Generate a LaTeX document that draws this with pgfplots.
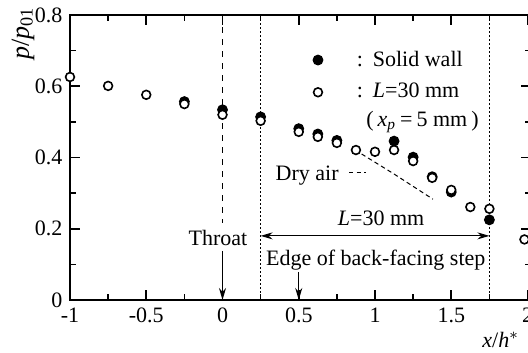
\documentclass[border=0pt]{standalone}
\usepackage{pgfplots}
\pgfplotsset{compat=1.18}
\usepackage{fontspec}
\setmainfont{Liberation Serif}
\usetikzlibrary{arrows.meta}
\begin{document}
\fontsize{11}{13}\selectfont
\begin{tikzpicture}
\path[use as bounding box] (-35pt,-26pt) rectangle (229pt,150pt);
\clip (-35pt,-26pt) rectangle (229pt,150pt);
\begin{axis}[
  at={(0pt,0pt)}, anchor=south west,
  scale only axis, width=230.275pt, height=142.5pt,
  xmin=-1, xmax=2.02, ymin=0, ymax=0.8,
  xtick={-1,-0.5,0,0.5,1,1.5,2},
  xticklabels={-1,-0.5,0,0.5,1,1.5,2},
  ytick={0,0.2,0.4,0.6,0.8},
  yticklabels={0,0.2,0.4,0.6,0.8},
  minor xtick={-0.75,-0.25,0.25,0.75,1.25,1.75},
  minor ytick={0.1,0.3,0.5,0.7},
  tick align=inside,
  major tick length=5pt, minor tick length=3pt,
  axis line style={line width=0.8pt},
  every tick/.style={black, line width=0.8pt},
  clip=false,
  xlabel={\textit{x}/\textit{h}$^{*}$},
  xlabel style={at={(axis description cs:0.935,-0.14)}, anchor=center},
  ylabel={\textit{p}/\textit{p}\textsubscript{01}},
  ylabel style={at={(axis description cs:-0.102,0.935)}, anchor=center, font=\fontsize{13}{15}\selectfont},
  legend style={at={(axis cs:0.592,0.712)}, anchor=north west, draw=none, fill=none,
    inner sep=0pt, row sep=3pt, font=\fontsize{11}{13}\selectfont},
  legend cell align=left,
]
% Solid wall
\addplot[only marks, mark=*, mark size=2.4pt, mark options={fill=black, draw=black, line width=0.6pt}]
coordinates {
(-0.25,0.557) (0,0.534) (0.25,0.514) (0.5,0.481) (0.625,0.466) (0.75,0.448)
(1.125,0.446) (1.25,0.401) (1.375,0.346) (1.5,0.303) (1.75,0.225)
};
\addlegendentry{\hspace{15pt}:\hspace{5pt}Solid wall}
% L = 30 mm
\addplot[only marks, mark=*, mark size=2.2pt, mark options={fill=white, draw=black, line width=0.8pt}]
coordinates {
(-1,0.626) (-0.75,0.601) (-0.5,0.576) (-0.25,0.550) (0,0.520) (0.25,0.503)
(0.5,0.472) (0.625,0.458) (0.75,0.441) (0.875,0.421) (1.0,0.416) (1.125,0.421)
(1.25,0.390) (1.375,0.343) (1.5,0.309) (1.625,0.261) (1.75,0.256) (1.98,0.170)
};
\addlegendentry{\hspace{15pt}:\hspace{5pt}\textit{L}=30 mm}
\node[anchor=west, inner sep=0pt] at (axis cs:0.941,0.50) {(\hspace{2pt}\textit{x}\textsubscript{\textit{p}}\hspace{2pt}=\hspace{2pt}5 mm\hspace{2pt})};
% Dry air line
\addplot[black, line width=0.5pt, dash pattern=on 2.2pt off 1.6pt, forget plot]
coordinates {(0.87,0.421) (1.12,0.355) (1.38,0.283)};
\addplot[black, line width=0.5pt, dash pattern=on 2.2pt off 1.6pt, forget plot]
coordinates {(0.83,0.357) (0.94,0.357)};
\node at (axis cs:0.555,0.350) {Dry air};
% Vertical lines
\addplot[black, line width=0.5pt, dash pattern=on 3pt off 3pt, forget plot]
coordinates {(0,0.8) (0,0.215)};
\addplot[black, line width=0.5pt, dash pattern=on 0.8pt off 1.2pt, forget plot]
coordinates {(0.25,0.8) (0.25,0)};
\addplot[black, line width=0.5pt, dash pattern=on 0.8pt off 1.2pt, forget plot]
coordinates {(1.75,0.8) (1.75,0)};
% Throat
\node at (axis cs:-0.03,0.175) {Throat};
\draw[-{Stealth[length=6pt,width=3.5pt]}, line width=0.6pt] (axis cs:0,0.138) -- (axis cs:0,0);
% L = 30 mm arrow
\draw[{Stealth[length=6pt,width=3.5pt]}-{Stealth[length=6pt,width=3.5pt]}, line width=0.5pt]
  (axis cs:0.25,0.18) -- (axis cs:1.75,0.18);
\node at (axis cs:1.04,0.228) {\textit{L}=30 mm};
% Edge of back-facing step
\node at (axis cs:1.005,0.112) {Edge of back-facing step};
\draw[-{Stealth[length=6pt,width=3.5pt]}, line width=0.6pt] (axis cs:0.5,0.079) -- (axis cs:0.5,0);
\end{axis}
\end{tikzpicture}
\end{document}
